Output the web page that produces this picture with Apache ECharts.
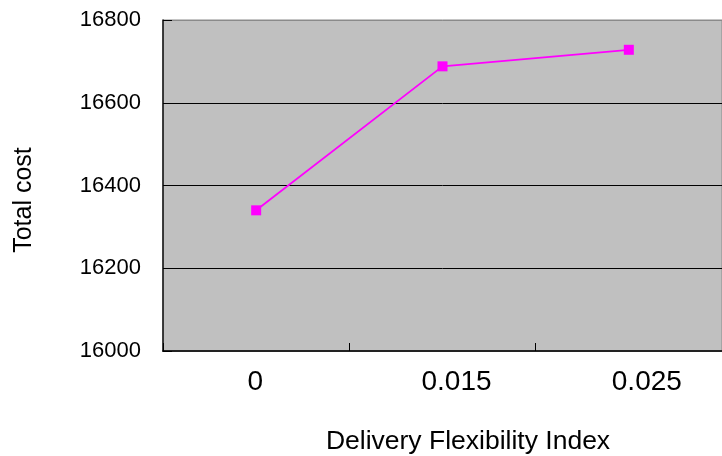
<!DOCTYPE html>
<html>
<head>
<meta charset="utf-8">
<script src="https://cdn.jsdelivr.net/npm/echarts@6/dist/echarts.min.js"></script>
<style>
html,body{margin:0;padding:0;background:#fff;}
#c{width:722px;height:456px;}
</style>
</head>
<body>
<div id="c"></div>
<script>
var categories = ['0', '0.015', '0.025'];
var totalCost = [16340, 16688, 16728];
var yTicks = { min: 16000, max: 16800, interval: 200 };
var xName = 'Delivery Flexibility Index';
var yName = 'Total cost';

var chart = echarts.init(document.getElementById('c'), null, { renderer: 'canvas' });
var font = 'Liberation Sans, Arial, sans-serif';
chart.setOption({
  animation: false,
  backgroundColor: '#ffffff',
  grid: {
    left: 163, top: 20, width: 570, height: 331,
    show: true, backgroundColor: '#C0C0C0', borderColor: '#8a8a8a', borderWidth: 1
  },
  xAxis: {
    type: 'category',
    data: categories,
    boundaryGap: true,
    axisLine: { lineStyle: { color: '#222', width: 2 } },
    axisTick: { show: true, inside: true, length: 8, lineStyle: { color: '#000' } },
    axisLabel: {
      color: '#000', fontFamily: font, fontSize: 28, margin: 17,
      formatter: function (v, i) { return '{l' + i + '|' + v + '}'; },
      rich: {
        l0: { fontFamily: font, fontSize: 28, color: '#000', padding: [0, 2, 0, 0] },
        l1: { fontFamily: font, fontSize: 28, color: '#000', padding: [0, 0, 0, 28] },
        l2: { fontFamily: font, fontSize: 28, color: '#000', padding: [0, 0, 0, 36] }
      }
    },
    splitLine: { show: false }
  },
  yAxis: {
    type: 'value',
    min: yTicks.min, max: yTicks.max, interval: yTicks.interval,
    axisLine: { show: true, lineStyle: { color: '#111', width: 1.5 } },
    axisTick: { show: true, inside: true, length: 9, lineStyle: { color: '#000' } },
    axisLabel: { color: '#000', fontFamily: font, fontSize: 22, margin: 22,
      formatter: function (v) { return String(v); } },
    splitLine: { show: true, lineStyle: { color: ['#000', '#000', '#000', '#000', '#8a8a8a'], width: 1 } }
  },
  graphic: [
    { type: 'text', x: 468, y: 442, silent: true,
      style: { text: xName, font: '26.5px ' + font, fill: '#000', textAlign: 'center', textVerticalAlign: 'middle' } },
    { type: 'text', x: 24, y: 200, rotation: Math.PI / 2, silent: true,
      style: { text: yName, font: '25px ' + font, fill: '#000', textAlign: 'center', textVerticalAlign: 'middle' } }
  ],
  series: [{
    type: 'line',
    data: totalCost,
    symbol: 'rect',
    symbolSize: 10,
    lineStyle: { color: '#FF00FF', width: 1.8 },
    itemStyle: { color: '#FF00FF' },
    z: 5
  }]
});
</script>
</body>
</html>
